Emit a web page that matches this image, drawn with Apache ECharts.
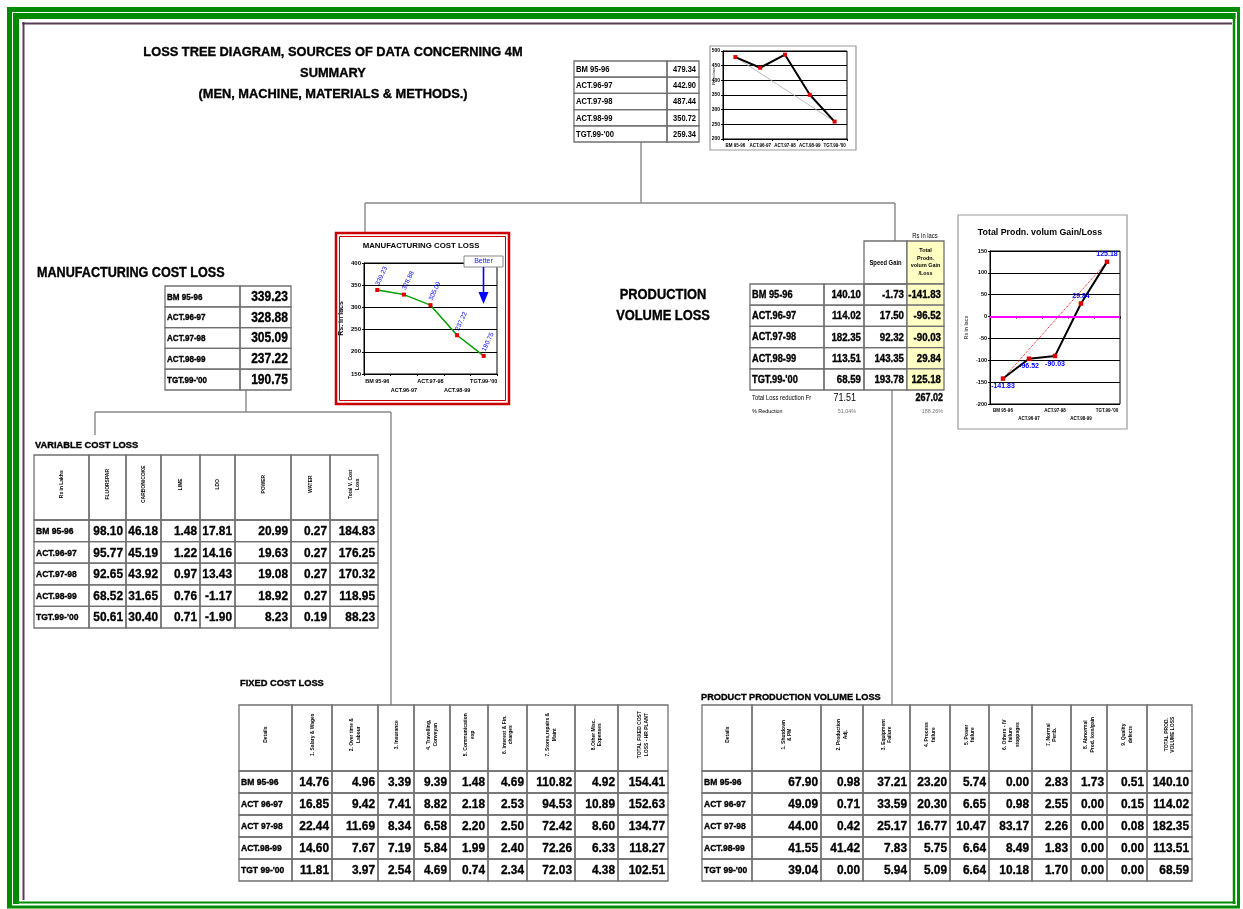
<!DOCTYPE html>
<html><head><meta charset="utf-8">
<script src="https://cdn.jsdelivr.net/npm/echarts@6/dist/echarts.min.js"></script>
<style>html,body{margin:0;padding:0;background:#fff}#c{width:1243px;height:909px}</style>
</head><body><div id="c"></div>
<script>
// ---------------- DATA ----------------
const periods = ["BM 95-96", "ACT.96-97", "ACT.97-98", "ACT.98-99", "TGT.99-'00"];
const summaryLabels = ["BM 95-96", "ACT.96-97", "ACT.97-98", "ACT.98-99", "TGT.99-'00"];
const summaryLoss = [479.34, 442.90, 487.44, 350.72, 259.34];
const mfgCostLoss = [339.23, 328.88, 305.09, 237.22, 190.75];
const prodVolLoss = [140.10, 114.02, 182.35, 113.51, 68.59];
const speedGain = [-1.73, 17.50, 92.32, 143.35, 193.78];
const totalGainLoss = [-141.83, -96.52, -90.03, 29.84, 125.18];
const footLabels = ["Total Loss reduction Fr", "% Reduction"];
const footLoss = ["71.51", "51.04%"];
const footGain = ["267.02", "188.26%"];

const varHeaders = ["Rs in Lakhs", "FLUORSPAR", "CARBON/COKE", "LIME", "LDO", "POWER", "WATER", "Total V. Cost\nLoss"];
const varFluorspar = [98.10, 95.77, 92.65, 68.52, 50.61];
const varCarbon = [46.18, 45.19, 43.92, 31.65, 30.40];
const varLime = [1.48, 1.22, 0.97, 0.76, 0.71];
const varLdo = [17.81, 14.16, 13.43, -1.17, -1.90];
const varPower = [20.99, 19.63, 19.08, 18.92, 8.23];
const varWater = [0.27, 0.27, 0.27, 0.27, 0.19];
const varTotal = [184.83, 176.25, 170.32, 118.95, 88.23];

const fixLabels = ["BM 95-96", "ACT 96-97", "ACT 97-98", "ACT.98-99", "TGT 99-'00"];
const fixHeaders = ["Details", "1. Salary & Wages", "2. Over time &\nLabour", "3. Insurance", "4. Travelling,\nConveyan", "5. Communication\nexp", "6. Interest & Fin.\ncharges", "7. Stores,repairs &\nMaint", "8.Other Misc.\nExpenses", "TOTAL FIXED COST\nLOSS - HR PLANT"];
const fixSalary = [14.76, 16.85, 22.44, 14.60, 11.81];
const fixOvertime = [4.96, 9.42, 11.69, 7.67, 3.97];
const fixInsurance = [3.39, 7.41, 8.34, 7.19, 2.54];
const fixTravel = [9.39, 8.82, 6.58, 5.84, 4.69];
const fixComm = [1.48, 2.18, 2.20, 1.99, 0.74];
const fixInterest = [4.69, 2.53, 2.50, 2.40, 2.34];
const fixStores = [110.82, 94.53, 72.42, 72.26, 72.03];
const fixMisc = [4.92, 10.89, 8.60, 6.33, 4.38];
const fixTotal = [154.41, 152.63, 134.77, 118.27, 102.51];

const ppHeaders = ["Details", "1. Shutdown\n& PM", "2. Production\nAdj.", "3. Equipment\nFailure", "4. Process\nfailure", "5. Power\nfailure", "6. Others - IV\nfailure\nstoppages", "7. Normal\nPertb.", "8. Abnormal\nProd. loss/gain", "9. Quality\ndefects", "TOTAL PROD.\nVOLUME LOSS"];
const ppShutdown = [67.90, 49.09, 44.00, 41.55, 39.04];
const ppProdAdj = [0.98, 0.71, 0.42, 41.42, 0.00];
const ppEquip = [37.21, 33.59, 25.17, 7.83, 5.94];
const ppProcess = [23.20, 20.30, 16.77, 5.75, 5.09];
const ppPower = [5.74, 6.65, 10.47, 6.64, 6.64];
const ppOthers = [0.00, 0.98, 83.17, 8.49, 10.18];
const ppNormal = [2.83, 2.55, 2.26, 1.83, 1.70];
const ppAbnormal = [1.73, 0.00, 0.00, 0.00, 0.00];
const ppQuality = [0.51, 0.15, 0.08, 0.00, 0.00];
const ppTotal = [140.10, 114.02, 182.35, 113.51, 68.59];

// ---------------- HELPERS ----------------
const FONT = "'Liberation Sans', Arial, sans-serif";
const FONTN = "'Liberation Sans Narrow','Arial Narrow','Liberation Sans',Arial,sans-serif";
const G = [];
function txt(x, y, s, o) {
  o = o || {};
  const al = o.align || 'left', va = o.valign || 'middle';
  const size = o.size || 9, weight = o.weight || 'bold', color = o.color || '#000';
  const st = {text: s, fontSize: size, fontWeight: weight, fontFamily: FONT,
    fill: color, align: al, verticalAlign: va, textAlign: al, textVerticalAlign: va};
  if (o.lh) st.lineHeight = o.lh;
  if (weight === 'bold' && size >= 9.5) { st.stroke = color; st.lineWidth = 0.35; }
  G.push({type: 'text', x: x, y: y, rotation: o.rot || 0, scaleX: o.sx == null ? 0.88 : o.sx, z: o.z || 60, silent: true, style: st});
}
function box(x, y, w, h, o) {
  o = o || {};
  G.push({type: 'rect', silent: true, z: o.z || 50, shape: {x: x, y: y, width: w, height: h},
    style: {fill: o.fill || 'none', stroke: o.stroke || '#666', lineWidth: o.lw || 1}});
}
function ln(x1, y1, x2, y2, o) {
  o = o || {};
  G.push({type: 'line', silent: true, z: o.z || 45, shape: {x1: x1, y1: y1, x2: x2, y2: y2},
    style: {stroke: o.color || '#888', lineWidth: o.lw || 1.4}});
}
function table(c) {
  const xs = c.xs, n = c.labels.length;
  let y0 = c.top;
  if (c.headers) {
    for (let k = 0; k < xs.length - 1; k++) {
      box(xs[k], y0, xs[k + 1] - xs[k], c.headH, {stroke: c.stroke, lw: 1.3});
      txt((xs[k] + xs[k + 1]) / 2, y0 + c.headH * 0.45, c.headers[k],
        {size: c.headSize, rot: Math.PI / 2, align: 'center', sx: 0.9, lh: c.headSize + 1});
    }
    y0 += c.headH;
  }
  for (let r = 0; r < n; r++) {
    const y = y0 + r * c.rowH;
    for (let k = 0; k < xs.length - 1; k++) {
      box(xs[k], y, xs[k + 1] - xs[k], c.rowH, {stroke: c.stroke, lw: 1.3, fill: c.fills ? c.fills[k] : null});
    }
    txt(xs[0] + 2, y + c.rowH / 2 + 0.5, c.labels[r], {size: c.labSize, sx: c.labSx});
    c.values.forEach(function (arr, k) {
      txt(xs[k + 2] - 3, y + c.rowH / 2 + 0.5, arr[r].toFixed(2),
        {size: c.numSize, align: 'right', sx: c.numSx, weight: c.numWeight || 'bold'});
    });
  }
}
function endpoints(a) { return a.map(function (v, i) { return (i === 0 || i === a.length - 1) ? v : null; }); }

// ---------------- FRAME ----------------
const GREEN = '#008a00';
ln(7, 9.5, 1240, 9.5, {color: GREEN, lw: 5});
ln(9.5, 7, 9.5, 908, {color: GREEN, lw: 5});
ln(1238.5, 7, 1238.5, 908, {color: GREEN, lw: 3});
ln(7, 907, 1240, 907, {color: GREEN, lw: 3});
ln(13, 16, 1235.5, 16, {color: GREEN, lw: 6});
ln(16, 13, 16, 904, {color: GREEN, lw: 6});
ln(1234, 13, 1234, 904, {color: GREEN, lw: 2.5});
ln(13, 902.5, 1235.5, 902.5, {color: GREEN, lw: 2});
ln(22, 23.5, 1232, 23.5, {color: '#5a3a5a', lw: 2});
ln(23.5, 22, 23.5, 900, {color: '#5a3a5a', lw: 2});

// ---------------- TITLES ----------------
txt(333, 52, 'LOSS TREE DIAGRAM, SOURCES OF DATA CONCERNING 4M', {size: 13.5, align: 'center', sx: 0.95});
txt(333, 73, 'SUMMARY', {size: 13.5, align: 'center', sx: 0.95});
txt(333, 94, '(MEN, MACHINE, MATERIALS & METHODS.)', {size: 13.5, align: 'center', sx: 0.95});
txt(37, 273, 'MANUFACTURING COST LOSS', {size: 14, sx: 0.9});
txt(663, 295, 'PRODUCTION', {size: 14, align: 'center', sx: 0.92});
txt(663, 316, 'VOLUME LOSS', {size: 14, align: 'center', sx: 0.92});
txt(35, 445, 'VARIABLE COST LOSS', {size: 9.5, sx: 0.98});
txt(240, 683, 'FIXED COST LOSS', {size: 9.5, sx: 0.98});
txt(701, 697, 'PRODUCT PRODUCTION VOLUME LOSS', {size: 9.5, sx: 0.97});

// ---------------- CONNECTORS ----------------
ln(641, 142, 641, 203);
ln(365, 203, 895, 203);
ln(365, 203, 365, 233);
ln(895, 203, 895, 241);
ln(892, 390, 892, 705);
ln(246, 390, 246, 412);
ln(95, 412, 391, 412);
ln(95, 412, 95, 435);
ln(391, 412, 391, 705);

// ---------------- TABLES ----------------
table({xs: [574, 667, 699], top: 61, rowH: 16.2, labels: summaryLabels, values: [summaryLoss],
  labSize: 8.5, labSx: 0.9, numSize: 8.5, numSx: 0.88, stroke: '#707070'});
table({xs: [165, 240, 291], top: 286, rowH: 20.8, labels: summaryLabels, values: [mfgCostLoss],
  labSize: 9.5, labSx: 0.85, numSize: 14, numSx: 0.86, stroke: '#707070'});
// speed gain table
txt(925, 236, 'Rs in lacs', {size: 6.5, align: 'center', weight: 'normal', sx: 0.9});
box(864, 241, 43, 43, {stroke: '#707070', lw: 1.3});
box(907, 241, 37, 43, {stroke: '#707070', lw: 1.3, fill: '#ffffc4'});
txt(885.5, 263, 'Speed Gain', {size: 6.5, align: 'center', sx: 0.9});
txt(925.5, 262, 'Total\nProdn.\nvolum Gain\n/Loss', {size: 6, align: 'center', sx: 0.9, lh: 7.5});
table({xs: [750, 824, 864, 907, 944], top: 284, rowH: 21.2, labels: summaryLabels,
  values: [prodVolLoss, speedGain, totalGainLoss], fills: [null, null, null, '#ffffc4'],
  labSize: 10.5, labSx: 0.88, numSize: 11, numSx: 0.88, stroke: '#707070'});
footLabels.forEach(function (s, i) {
  const y = 398 + i * 13;
  txt(752, y, s, {size: i ? 6 : 6.5, weight: 'normal', sx: 0.9});
  txt(856, y, footLoss[i], {size: i ? 6 : 10, weight: 'normal', align: 'right', sx: 0.9, color: i ? '#777' : '#000'});
  txt(943, y, footGain[i], {size: i ? 6 : 10, weight: i ? 'normal' : 'bold', align: 'right', sx: 0.9, color: i ? '#777' : '#000'});
});
table({xs: [34, 89, 126, 161, 200, 235, 291, 330, 378], top: 455, headH: 65, rowH: 21.6, headers: varHeaders, headSize: 5.5,
  labels: summaryLabels, values: [varFluorspar, varCarbon, varLime, varLdo, varPower, varWater, varTotal],
  labSize: 9.5, labSx: 0.9, numSize: 13.5, numSx: 0.88, stroke: '#707070'});
table({xs: [239, 292, 332, 378, 414, 450, 488, 527, 575, 618, 668], top: 705, headH: 66, rowH: 22, headers: fixHeaders, headSize: 5.5,
  labels: fixLabels, values: [fixSalary, fixOvertime, fixInsurance, fixTravel, fixComm, fixInterest, fixStores, fixMisc, fixTotal],
  labSize: 9.5, labSx: 0.9, numSize: 13.5, numSx: 0.88, stroke: '#707070'});
table({xs: [702, 752, 821, 863, 910, 950, 989, 1032, 1071, 1107, 1147, 1192], top: 705, headH: 66, rowH: 22, headers: ppHeaders, headSize: 5.5,
  labels: fixLabels, values: [ppShutdown, ppProdAdj, ppEquip, ppProcess, ppPower, ppOthers, ppNormal, ppAbnormal, ppQuality, ppTotal],
  labSize: 9.5, labSx: 0.9, numSize: 13.5, numSx: 0.88, stroke: '#707070'});

// ---------------- CHART BOXES ----------------
box(710, 46, 146, 104, {stroke: '#999', lw: 1.2});
txt(714, 76, 'Rs in lacs', {size: 4, weight: 'normal', rot: Math.PI / 2, align: 'center', sx: 1});
box(336, 233, 173, 171, {stroke: '#cc0000', lw: 2.5});
box(339.5, 236.5, 166, 164, {stroke: '#cc0000', lw: 1});
txt(421, 246, 'MANUFACTURING COST LOSS', {size: 8, align: 'center', sx: 0.98});
G.push({type: 'rect', silent: true, z: 100, shape: {x: 464, y: 256, width: 39, height: 11}, style: {fill: '#fff', stroke: '#888', lineWidth: 1}});
txt(483.5, 261.5, 'Better', {size: 7, weight: 'normal', align: 'center', color: '#2020ff', sx: 1, z: 110});
ln(483.5, 267, 483.5, 294, {color: '#0000ff', lw: 1.6, z: 100});
G.push({type: 'polygon', silent: true, z: 100, shape: {points: [[478.5, 292], [488.5, 292], [483.5, 304]]}, style: {fill: '#0000ff'}});
box(958, 215, 169, 214, {stroke: '#999', lw: 1.2});
txt(1040, 233, 'Total Prodn. volum Gain/Loss', {size: 9, align: 'center', sx: 0.98});

// ---------------- CHARTS ----------------
const grids = [
  {left: 723, top: 51, width: 124, height: 88},
  {left: 364, top: 263, width: 133, height: 111},
  {left: 990, top: 251, width: 130, height: 153}
].map(function (g) { return Object.assign({show: true, backgroundColor: '#fff', borderColor: '#000', borderWidth: 1}, g); });

function xAx(i, size, twoRow) {
  const lab = {interval: 0, fontSize: size, margin: 3, color: '#000', fontFamily: FONTN, fontWeight: 'bold', lineHeight: size + 3.5};
  if (twoRow) lab.formatter = function (v, idx) { return idx % 2 ? '\n' + v : v; };
  return {type: 'category', gridIndex: i, data: periods, boundaryGap: true,
    axisLine: {lineStyle: {color: '#000', width: 1}},
    axisTick: {show: true, length: 2, lineStyle: {color: '#000'}},
    axisLabel: lab};
}
function yAx(i, min, max, size, name, nameSize, nameGap, nameColor) {
  return {type: 'value', gridIndex: i, min: min, max: max, interval: 50,
    axisLine: {show: true, lineStyle: {color: '#000'}},
    axisTick: {show: true, length: 2, lineStyle: {color: '#000'}},
    splitLine: {show: true, lineStyle: {color: '#000', width: 1}},
    axisLabel: {fontSize: size, margin: 3, color: '#000', fontFamily: FONTN, fontWeight: 'bold'},
    name: name, nameLocation: 'middle', nameRotate: 90, nameGap: nameGap,
    nameTextStyle: {fontSize: nameSize, color: nameColor, fontFamily: FONTN, fontWeight: 'bold'}};
}
const cLabelPos = ['bottom', 'bottom', 'bottom', 'top', 'top'];

const option = {
  animation: false,
  backgroundColor: '#fff',
  textStyle: {fontFamily: FONTN},
  grid: grids,
  xAxis: [xAx(0, 4.5, false), xAx(1, 5.5, true), xAx(2, 4.5, true)],
  yAxis: [yAx(0, 200, 500, 5, '', 4, 10, '#000'), yAx(1, 150, 400, 6, 'Rs. in lacs', 7, 19, '#000'), yAx(2, -200, 150, 5.5, 'Rs in lacs', 5, 21, '#555')],
  series: [
    {type: 'line', xAxisIndex: 0, yAxisIndex: 0, data: endpoints(summaryLoss), connectNulls: true, symbol: 'none',
      lineStyle: {color: '#aaa', width: 0.8}, z: 2},
    {type: 'line', xAxisIndex: 0, yAxisIndex: 0, data: summaryLoss, symbol: 'rect', symbolSize: 4,
      lineStyle: {color: '#000', width: 2}, itemStyle: {color: '#e00000'}, z: 3},
    {type: 'line', xAxisIndex: 1, yAxisIndex: 1, data: mfgCostLoss, symbol: 'rect', symbolSize: 4,
      lineStyle: {color: '#00a000', width: 1.5}, itemStyle: {color: '#e00000'},
      label: {show: true, position: 'top', rotate: 65, align: 'left', verticalAlign: 'middle', distance: 3,
        color: '#0000ff', fontSize: 6.5, fontFamily: FONTN, formatter: function (p) { return p.value.toFixed(2); }}},
    {type: 'line', xAxisIndex: 2, yAxisIndex: 2, data: endpoints(totalGainLoss), connectNulls: true, symbol: 'none',
      lineStyle: {color: '#ff0000', width: 1, type: 'dotted'}, z: 2},
    {type: 'line', xAxisIndex: 2, yAxisIndex: 2, z: 3,
      data: totalGainLoss.map(function (v, i) { return {value: v, label: {position: cLabelPos[i]}}; }),
      symbol: 'rect', symbolSize: 4.5, lineStyle: {color: '#000', width: 2}, itemStyle: {color: '#e00000'},
      label: {show: true, color: '#0000ff', fontSize: 7, fontWeight: 'bold', fontFamily: FONTN, distance: 2,
        formatter: function (p) { return Number(p.value).toFixed(2); }},
      markLine: {silent: true, symbol: 'none', label: {show: false}, lineStyle: {color: '#ff00ff', width: 2, type: 'solid'}, data: [{yAxis: 0}]}}
  ],
  graphic: {elements: G}
};
const chart = echarts.init(document.getElementById('c'));
chart.setOption(option);
</script></body></html>
